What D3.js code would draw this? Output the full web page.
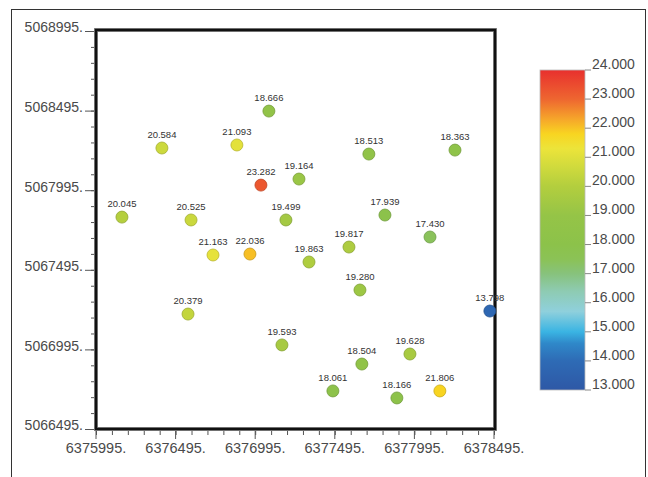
<!DOCTYPE html>
<html>
<head>
<meta charset="utf-8">
<script src="https://cdn.jsdelivr.net/npm/d3@7"></script>
<style>
  body { margin: 0; background: #fff; }
  svg { display: block; font-family: "Liberation Sans", Arial, sans-serif; }
</style>
</head>
<body>
<svg id="chart" width="648" height="477"></svg>
<script>
// well coordinates (easting, northing) and measured values
const eastings = [6377081, 6376409, 6376880, 6377031, 6377270, 6376158, 6376592, 6377188, 6376730,
    6376962, 6377333, 6376573, 6377163, 6377709, 6378250, 6377810, 6378093, 6377584, 6377653,
    6378469, 6377665, 6377967, 6377483, 6377885, 6378155];
const northings = [5068492, 5068260, 5068279, 5068027, 5068065, 5067826, 5067808, 5067808, 5067588,
    5067594, 5067544, 5067217, 5067023, 5068222, 5068247, 5067839, 5067701, 5067638, 5067368,
    5067236, 5066903, 5066966, 5066734, 5066690, 5066734];
const values = [18.666, 20.584, 21.093, 23.282, 19.164, 20.045, 20.525, 19.499, 21.163,
    22.036, 19.863, 20.379, 19.593, 18.513, 18.363, 17.939, 17.430, 19.817, 19.280,
    13.798, 18.504, 19.628, 18.061, 18.166, 21.806];

const xTicks = [6375995, 6376495, 6376995, 6377495, 6377995, 6378495];
const yTicks = [5066495, 5066995, 5067495, 5067995, 5068495, 5068995];
const legendTicks = [13, 14, 15, 16, 17, 18, 19, 20, 21, 22, 23, 24];

// colour ramp of the legend
const rampStops = [13, 14, 14.6, 15, 15.7, 16.4, 17, 17.5, 18, 19, 20, 20.6, 21.3, 21.8, 22.3, 23, 24];
const rampColors = ["#2e58a6", "#2e6bb5", "#2f88c9", "#3ab4e3", "#8fd0dc", "#8ecbb2", "#87c27c",
    "#8bc256", "#8cc24a", "#95c447", "#b3ce3e", "#cdd93d", "#ece43a", "#f8d521", "#f6a72a",
    "#ee6630", "#e8302e"];

const svg = d3.select("#chart");
const color = d3.scaleLinear().domain(rampStops).range(rampColors);

const margin = { left: 96, top: 31, right: 494, bottom: 429 };
const x = d3.scaleLinear().domain([6375995, 6378495]).range([margin.left, margin.right]);
const y = d3.scaleLinear().domain([5066495, 5068995]).range([margin.bottom, margin.top]);

// outer frame
svg.append("rect")
    .attr("x", 11.5).attr("y", 9.5)
    .attr("width", 634).attr("height", 490)
    .attr("fill", "none").attr("stroke", "#333").attr("stroke-width", 1);

const axisColor = "#4a4a4a";
const fmt = (d) => d + ".";

// y axis
const yAxis = svg.append("g").attr("transform", `translate(${margin.left},0)`);
yAxis.call(d3.axisLeft(y).tickValues(d3.range(5066495, 5068996, 100)).tickSize(5).tickFormat(""));
yAxis.call((g) => g.select(".domain").remove());
yAxis.selectAll(".tick line").attr("stroke", "#555");
yAxis.selectAll(".major")
    .data(yTicks).join("line")
    .attr("x1", -11).attr("x2", 0)
    .attr("y1", (d) => y(d) + 0.5).attr("y2", (d) => y(d) + 0.5)
    .attr("stroke", "#555");
yAxis.selectAll(".ylab")
    .data(yTicks).join("text")
    .attr("x", -13).attr("y", (d) => y(d))
    .attr("dy", "0.1em")
    .attr("text-anchor", "end")
    .attr("font-size", 14)
    .attr("fill", axisColor)
    .text(fmt);

// x axis
const xAxis = svg.append("g").attr("transform", `translate(0,${margin.bottom})`);
xAxis.call(d3.axisBottom(x).tickValues(d3.range(6375995, 6378496, 100)).tickSize(6).tickFormat(""));
xAxis.call((g) => g.select(".domain").remove());
xAxis.selectAll(".tick line").attr("stroke", "#555");
xAxis.selectAll(".major")
    .data(xTicks).join("line")
    .attr("x1", (d) => x(d)).attr("x2", (d) => x(d))
    .attr("y1", 0).attr("y2", 10)
    .attr("stroke", "#555");
xAxis.selectAll(".xlab")
    .data(xTicks).join("text")
    .attr("x", (d) => x(d)).attr("y", 24)
    .attr("text-anchor", "middle")
    .attr("font-size", 14.5)
    .attr("fill", axisColor)
    .text(fmt);

// plot frame
svg.append("rect")
    .attr("x", margin.left).attr("y", 30)
    .attr("width", 399).attr("height", margin.bottom - 30)
    .attr("fill", "none").attr("stroke", "#8a8a8a").attr("stroke-width", 4);
svg.append("rect")
    .attr("x", margin.left).attr("y", 30)
    .attr("width", 399).attr("height", margin.bottom - 30)
    .attr("fill", "none").attr("stroke", "#111").attr("stroke-width", 2.4);

// wells
const wells = values.map((v, i) => ({ v, e: eastings[i], n: northings[i] }));
const pts = svg.append("g");
pts.selectAll("circle")
    .data(wells).join("circle")
    .attr("cx", (d) => x(d.e)).attr("cy", (d) => y(d.n))
    .attr("r", 6)
    .attr("fill", (d) => color(d.v))
    .attr("stroke", (d) => d3.color(color(d.v)).darker(0.6))
    .attr("stroke-width", 0.8);
pts.selectAll("text")
    .data(wells).join("text")
    .attr("x", (d) => x(d.e)).attr("y", (d) => y(d.n) - 10)
    .attr("text-anchor", "middle")
    .attr("font-size", 9.5)
    .attr("fill", "#333")
    .text((d) => d.v.toFixed(3));

// legend
const lg = { x: 540, w: 45, top: 70, bottom: 390 };
const ly = d3.scaleLinear().domain([13, 24]).range([lg.bottom, lg.top]);
const grad = svg.append("defs").append("linearGradient")
    .attr("id", "ramp").attr("x1", 0).attr("y1", 1).attr("x2", 0).attr("y2", 0);
grad.selectAll("stop")
    .data(rampStops).join("stop")
    .attr("offset", (d) => (d - 13) / 11)
    .attr("stop-color", (d, i) => rampColors[i]);
svg.append("rect")
    .attr("x", lg.x).attr("y", lg.top)
    .attr("width", lg.w).attr("height", lg.bottom - lg.top)
    .attr("fill", "url(#ramp)")
    .attr("stroke", "#bbb").attr("stroke-width", 0.8);
const legend = svg.append("g").attr("transform", `translate(${lg.x + lg.w},0)`);
legend.selectAll("line")
    .data(legendTicks).join("line")
    .attr("x1", 0).attr("x2", 6)
    .attr("y1", (d) => ly(d)).attr("y2", (d) => ly(d))
    .attr("stroke", "#888");
legend.selectAll("text")
    .data(legendTicks).join("text")
    .attr("x", 7).attr("y", (d) => ly(d) - 1)
    .attr("font-size", 14)
    .attr("fill", axisColor)
    .text((d) => d.toFixed(3));
</script>
</body>
</html>
